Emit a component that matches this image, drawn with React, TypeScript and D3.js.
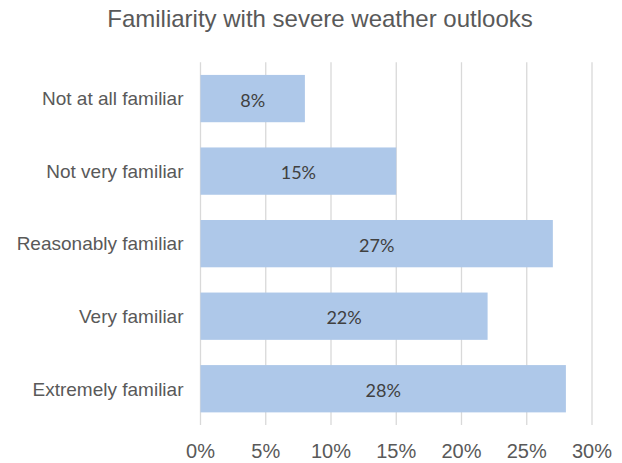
import React from "react";
import * as d3 from "d3";

// Survey responses: familiarity with severe weather outlooks
const categories: string[] = [
  "Not at all familiar",
  "Not very familiar",
  "Reasonably familiar",
  "Very familiar",
  "Extremely familiar",
];
const shares: number[] = [8, 15, 27, 22, 28];
const tickValues: number[] = [0, 5, 10, 15, 20, 25, 30];
const title = "Familiarity with severe weather outlooks";

const W = 622;
const H = 463;
const plot = { left: 200.5, right: 592, top: 62.3, bottom: 425 };

const axisFont = "'Liberation Sans', Arial, sans-serif";
const labelFont = "Lato, 'Open Sans', sans-serif";

export default function App() {
  const x = d3.scaleLinear().domain([0, 30]).range([plot.left, plot.right]);
  const y = d3
    .scaleBand<string>()
    .domain(categories)
    .range([plot.top, plot.bottom])
    .paddingInner(0.348)
    .paddingOuter(0.174);

  return (
    <svg
      width={W}
      height={H}
      viewBox={`0 0 ${W} ${H}`}
      style={{ position: "fixed", left: 0, top: 0, background: "#fff" }}
    >
      <rect x={0} y={0} width={W} height={H} fill="#fff" />
      <text
        x={320}
        y={27.3}
        textAnchor="middle"
        fontFamily={axisFont}
        fontSize={24}
        fill="#595959"
      >
        {title}
      </text>

      {/* vertical gridlines */}
      {tickValues.map((t) => (
        <line
          key={`g${t}`}
          x1={x(t)}
          x2={x(t)}
          y1={plot.top}
          y2={plot.bottom}
          stroke="#d9d9d9"
          strokeWidth={1.3}
        />
      ))}

      {/* bars with centred value labels */}
      {categories.map((c, i) => {
        const y0 = y(c) as number;
        const bw = y.bandwidth();
        return (
          <g key={c}>
            <rect
              x={x(0)}
              y={y0}
              width={x(shares[i]) - x(0)}
              height={bw}
              fill="#aec8e9"
            />
            <text
              x={(x(0) + x(shares[i])) / 2}
              y={y0 + bw / 2 + 8}
              textAnchor="middle"
              fontFamily={labelFont}
              fontSize={18}
              fill="#404040"
            >
              {`${shares[i]}%`}
            </text>
            <text
              x={183.5}
              y={y0 + bw / 2 + 6.8}
              textAnchor="end"
              fontFamily={axisFont}
              fontSize={19}
              fill="#595959"
            >
              {c}
            </text>
          </g>
        );
      })}

      {/* x axis tick labels */}
      {tickValues.map((t) => (
        <text
          key={`t${t}`}
          x={x(t)}
          y={458}
          textAnchor="middle"
          fontFamily={axisFont}
          fontSize={20}
          fill="#595959"
        >
          {`${t}%`}
        </text>
      ))}
    </svg>
  );
}
